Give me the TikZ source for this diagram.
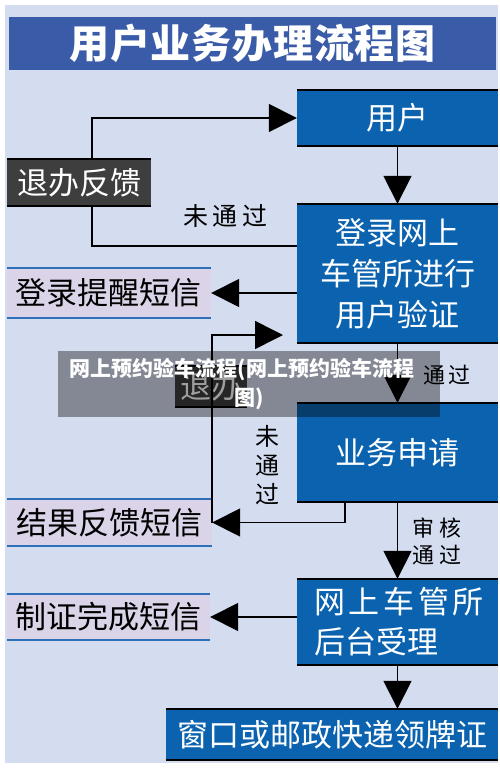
\documentclass[tikz,border=0pt]{standalone}
\usepackage{fontspec}
\newfontfamily\cjk{Noto Sans CJK SC}
\usetikzlibrary{arrows.meta}
\definecolor{bg}{RGB}{212,220,240}
\definecolor{titlebar}{RGB}{58,92,168}
\definecolor{boxblue}{RGB}{11,99,176}
\definecolor{darkbox}{RGB}{62,62,62}
\definecolor{lav}{RGB}{219,211,231}
\definecolor{lavline}{RGB}{46,112,184}
\begin{document}
\begin{tikzpicture}[x=1pt,y=-1pt,
  bluebox/.style={fill=boxblue,text=white,inner sep=0pt,align=center,
    font=\cjk\fontsize{31}{41}\selectfont},
  darkbx/.style={fill=darkbox,text=white,inner sep=0pt,
    font=\cjk\fontsize{31}{41}\selectfont},
  lavbox/.style={fill=lav,text=black,inner sep=0pt,
    font=\cjk\fontsize{31}{41}\selectfont},
  lbl/.style={text=black,inner sep=0pt,align=center},
  arr/.style={line width=1.6pt,-{Triangle[width=28pt,length=28pt]}},
  plainline/.style={line width=1.6pt},
  blackedge/.style={line width=2pt,black},
  blueedge/.style={line width=2pt,lavline}]
\useasboundingbox (0,0) rectangle (500,769);
\fill[white] (0,0) rectangle (500,769);
\fill[bg] (5,5) rectangle (498,763);

% title
\node[fill=titlebar,text=white,inner sep=0pt,minimum width=487pt,minimum height=53pt,
  font=\cjk\bfseries\fontsize{40}{44}\selectfont\addfontfeatures{LetterSpace=2}]
  (title) at (252.5,43.5) {用户业务办理流程图};

% main blue boxes
\node[bluebox,minimum width=201pt,minimum height=56pt] (user) at (397.5,118) {用户};
\node[bluebox,minimum width=201pt,minimum height=139pt] (login) at (397.5,273.5)
  {登录网上\\车管所进行\\用户验证};
\node[bluebox,minimum width=201pt,minimum height=99pt] (apply) at (397.5,452.5) {业务申请};
\node[bluebox,minimum height=86pt,inner xsep=17pt,text width=167pt,align=left,
  font=\cjk\fontsize{31}{40}\selectfont]
  (backend) at (397.5,622) {{\addfontfeatures{LetterSpace=12}网上车管所}\\后台受理};
\node[bluebox,minimum width=332pt,minimum height=51pt] (window) at (332,734.5)
  {窗口或邮政快递领牌证};

% dark boxes
\node[darkbx,minimum width=144pt,minimum height=47pt] (tuiban) at (79,182.5) {退办反馈};
\node[darkbx,minimum width=72pt,minimum height=41pt] (small) at (211,386.5) {退办};

% lavender boxes
\node[lavbox,minimum width=204pt,minimum height=50pt] (sms1) at (109,293) {登录提醒短信};
\node[lavbox,minimum width=205pt,minimum height=47pt] (sms2) at (109.5,522.5) {结果反馈短信};
\node[lavbox,minimum width=203pt,minimum height=46pt] (sms3) at (108.5,617) {制证完成短信};

% edges of boxes
\foreach \n in {user,login,apply,backend,window,tuiban,small}
  \draw[blackedge] (\n.north west) -- (\n.north east) (\n.south west) -- (\n.south east);
\foreach \n in {sms1,sms2,sms3}
  \draw[blueedge] (\n.north west) -- (\n.north east) (\n.south west) -- (\n.south east);

% labels
\node[lbl,font=\cjk\fontsize{25}{29}\selectfont\addfontfeatures{LetterSpace=18}]
  (l1) at (225,216) {未通过};
\node[lbl,font=\cjk\fontsize{22}{27}\selectfont\addfontfeatures{LetterSpace=14}]
  (l2) at (447,375) {通过};
\node[lbl,font=\cjk\fontsize{24}{29}\selectfont] (l3) at (267,465) {未\\通\\过};
\node[lbl,font=\cjk\fontsize{22}{27}\selectfont\addfontfeatures{LetterSpace=20}]
  (l4) at (437,541.5) {审核\\通过};

% connectors
\draw[arr] ([xshift=13pt]tuiban.north) |- (user.west);
\draw[plainline] ([yshift=27.5pt]login.west) -| ([xshift=13pt]tuiban.south);
\draw[arr] (user.south) -- (login.north);
\draw[arr] (login.west |- sms1.east) -- (sms1.east);
\coordinate (jtip) at (283,335);
\draw[arr] (sms2.east) |- (jtip);
\draw[arr] (login.south) -- (apply.north);
\draw[arr] ([xshift=-52.5pt]apply.south) |- (sms2.east);
\draw[arr] (apply.south) -- (backend.north);
\draw[arr] (backend.west |- sms3.east) -- (sms3.east);
\draw[arr] (backend.south) -- (backend.south |- window.north);

% overlay caption
\node[fill=black,fill opacity=0.38,text opacity=1,text=white,inner sep=0pt,
  minimum width=382pt,minimum height=66pt,align=center,
  font=\cjk\bfseries\fontsize{21}{29}\selectfont]
  (wm) at (249,384) {\hspace*{-14pt}网上预约验车流程(网上预约验车流程\\图)};
\end{tikzpicture}
\end{document}
